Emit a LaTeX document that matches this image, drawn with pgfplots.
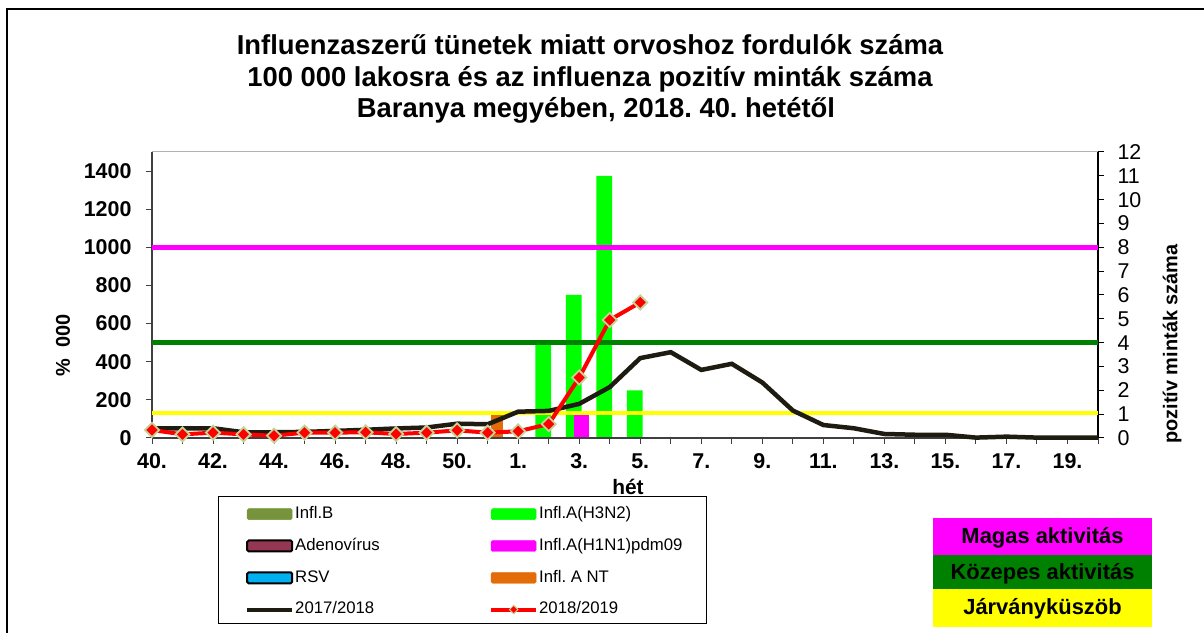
\documentclass[border=0pt]{standalone}
\usepackage{fontspec}
\setmainfont{Liberation Sans}
\usepackage{pgfplots}
\pgfplotsset{compat=1.18}
\definecolor{grH}{RGB}{0,255,0}
\definecolor{magH}{RGB}{255,0,255}
\definecolor{orH}{RGB}{227,108,9}
\definecolor{olB}{RGB}{119,147,60}
\definecolor{adeno}{RGB}{149,55,83}
\definecolor{rsv}{RGB}{0,176,240}
\definecolor{dk}{RGB}{30,28,17}
\definecolor{dgreen}{RGB}{0,128,0}
\definecolor{mkedge}{RGB}{196,210,150}
\definecolor{axgray}{RGB}{64,64,64}
\definecolor{ylw}{RGB}{255,255,0}

\pgfplotsset{
  barleg/.style={legend image code/.code={\draw[##1, rounded corners=1.5bp] (0bp,-5.5bp) rectangle (45bp,5.5bp);}},
  lineleg/.style={legend image code/.code={\draw[mark repeat=2, mark phase=2, ##1] plot coordinates {(0bp,0bp) (22.5bp,0bp) (45bp,0bp)};}},
  mylegend/.style={legend style={draw=none, fill=none, inner sep=0pt, anchor=north west,
     font=\fontsize{16.8}{16.8}\selectfont, row sep=16.3bp,
     nodes={inner xsep=1bp, inner ysep=0bp, text height=12bp, text depth=3.5bp}},
     legend cell align=left},
  common/.style={at={(152bp,195bp)}, anchor=south west, scale only axis,
     width=946bp, height=286bp, xmin=0, xmax=31, clip=false,
     tick align=outside, major tick length=6bp,
     /pgf/number format/assume math mode=true,
     /pgf/number format/1000 sep={}},
}

\pgfplotstableread{
x y
0 51
1 51
2 51
3 30
4 30
5 32
6 37
7 43
8 50
9 55
10 75
11 72
12 138
13 142
14 179
15 267
16 419
17 450
18 357
19 389
20 291
21 144
22 68
23 51
24 21
25 17
26 17
27 2
28 7
29 2
30 2
31 2
}\seasonA

\pgfplotstableread{
x y
0 42
1 19
2 28
3 19
4 12
5 28
6 28
7 30
8 21
9 28
10 40
11 28
12 35
13 73
14 317
15 619
16 711
}\seasonB

\begin{document}
\frenchspacing
\begin{tikzpicture}[x=1bp,y=1bp]
\useasboundingbox (0,0) rectangle (1204,633);
\fill[white] (0,0) rectangle (1204,633);
\draw[black, line width=1.2bp] (7,0) -- (7,624) -- (1204,624);
% title
\node[anchor=base, font=\bfseries\fontsize{27.5}{27.5}\selectfont] at (590,578.1) {Influenzaszerű tünetek miatt orvoshoz fordulók száma};
\node[anchor=base, font=\bfseries\fontsize{27.5}{27.5}\selectfont] at (590,546.6) {100 000 lakosra és az influenza pozitív minták száma};
\node[anchor=base, font=\bfseries\fontsize{27.5}{27.5}\selectfont] at (596,515.1) {Baranya megyében, 2018. 40. hetétől};
% axis titles
\node[rotate=90, font=\bfseries\fontsize{20}{20}\selectfont] at (63,288) {\%\ \ 000};
\node[rotate=90, font=\bfseries\fontsize{20}{20}\selectfont] at (1172,289) {pozitív minták száma};
\node[font=\bfseries\fontsize{21}{21}\selectfont] at (628,146) {hét};
% legend box
\draw[black, line width=1bp, fill=white] (218,9) rectangle (706,136);
% activity boxes
\fill[magH] (933,78) rectangle (1152,115);
\fill[dgreen] (933,44) rectangle (1152,78);
\fill[ylw] (933,6) rectangle (1152,44);
\node[anchor=base, font=\bfseries\fontsize{22}{22}\selectfont] at (1042.5,89.7) {Magas aktivitás};
\node[anchor=base, font=\bfseries\fontsize{22}{22}\selectfont] at (1042.5,53) {Közepes aktivitás};
\node[anchor=base, font=\bfseries\fontsize{22}{22}\selectfont] at (1042.5,18) {Járványküszöb};

% ---------- right axis: positive samples (bars)
\begin{axis}[common, ymin=0, ymax=12,
  axis x line=none, axis y line*=right,
  y axis line style={black, line width=1.5bp, -},
  ytick={0,...,12}, ytick style={black, line width=1bp},
  yticklabel style={font=\fontsize{21.5}{21.5}\selectfont, xshift=10bp},
  mylegend, legend style={at={(axis description cs:0.0983,-0.2386)}},
]
\addplot[ybar, bar width=0.38, bar shift=0.31, fill=orH, draw=none, forget plot] coordinates {(11,1)};
\addplot[ybar, bar width=0.52, bar shift=-0.18, fill=grH, draw=none, forget plot] coordinates {(13,4) (14,6) (15,11) (16,2)};
\addplot[ybar, bar width=0.49, bar shift=0.07, fill=magH, draw=none, forget plot] coordinates {(14,1)};
\addlegendimage{barleg, fill=olB, draw=olB}
\addlegendentry{Infl.B}
\addlegendimage{barleg, fill=adeno, draw=black, line width=2bp}
\addlegendentry{Adenovírus}
\addlegendimage{barleg, fill=rsv, draw=black, line width=2bp}
\addlegendentry{RSV}
\addlegendimage{lineleg, dk, line width=4bp}
\addlegendentry{2017/2018}
\end{axis}

% ---------- left axis: per 100 000 (lines)
\begin{axis}[common, ymin=0, ymax=1500,
  axis x line*=bottom, axis y line*=left,
  x axis line style={axgray, line width=1.5bp, -},
  y axis line style={axgray, line width=1.5bp, -},
  xtick={0,...,31},
  xticklabels={40.,,42.,,44.,,46.,,48.,,50.,,1.,,3.,,5.,,7.,,9.,,11.,,13.,,15.,,17.,,19.,},
  ytick={0,200,...,1400},
  tick style={axgray, line width=1bp},
  ticklabel style={font=\bfseries\fontsize{21.5}{21.5}\selectfont},
  xticklabel style={yshift=-6bp},
  yticklabel style={xshift=-11bp},
  mylegend, legend style={at={(axis description cs:0.3562,-0.2386)}},
]
\addplot[magH, line width=4.5bp, forget plot] coordinates {(0,1000) (31,1000)};
\addplot[dgreen, line width=4.5bp, forget plot] coordinates {(0,500) (31,500)};
\addplot[ylw, line width=4.5bp, forget plot] coordinates {(0,130) (31,130)};
\addplot[dk, line width=4.5bp, forget plot] table[x=x,y=y] {\seasonA};
\addplot[red, line width=4bp, mark=square*, mark size=5bp,
  mark options={rotate=45, fill=red, draw=mkedge, line width=1.8bp, solid}, forget plot]
  table[x=x,y=y] {\seasonB};
\addlegendimage{barleg, fill=grH, draw=grH}
\addlegendentry{Infl.A(H3N2)}
\addlegendimage{barleg, fill=magH, draw=magH}
\addlegendentry{Infl.A(H1N1)pdm09}
\addlegendimage{barleg, fill=orH, draw=orH}
\addlegendentry{Infl. A NT}
\addlegendimage{lineleg, red, line width=4bp, mark=square*, mark size=3bp,
  mark options={rotate=45, fill=red, draw=mkedge, line width=1bp, solid}}
\addlegendentry{2018/2019}
\end{axis}
\draw[gray!60, line width=1bp] (152,481) -- (1098,481);
\end{tikzpicture}
\end{document}
